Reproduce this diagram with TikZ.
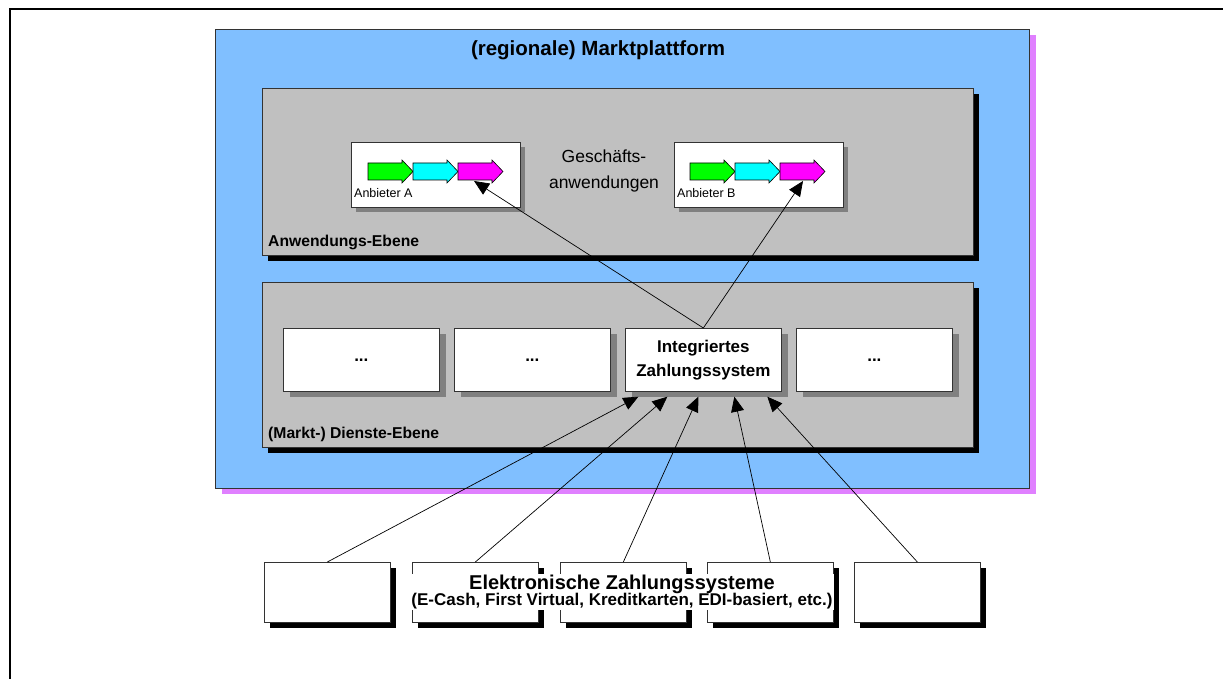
\documentclass[tikz,border=0pt]{standalone}
\usepackage{fontspec}
\setmainfont{Liberation Sans}
\usetikzlibrary{arrows.meta,shadows,calc}

\definecolor{plattformblau}{RGB}{128,191,255}
\definecolor{schattenlila}{RGB}{224,128,255}
\definecolor{ebenengrau}{RGB}{192,192,192}
\definecolor{schattengrau}{RGB}{128,128,128}
\definecolor{pgruen}{RGB}{0,255,0}
\definecolor{pcyan}{RGB}{0,255,255}
\definecolor{pmagenta}{RGB}{255,0,255}

%% kleiner Blockpfeil: x, y (oben links), Farbe
\newcommand{\blockpfeil}[3]{%
	\draw[fill=#3,line width=0.6pt] (#1,#2) -- ++(34,0) -- ++(0,-3) -- ++(11,11.5) -- ++(-11,11.5) -- ++(0,-3) -- ++(-34,0) -- cycle;}
%% enger Zeilenabstand
\newcommand{\engzeilen}{\setlength{\lineskiplimit}{-20pt}}

\begin{document}
\begin{tikzpicture}[x=1pt,y=-1pt,
	box/.style={draw=black!80,line width=0.7pt,anchor=north west,inner sep=0pt},
	plattform/.style={box,fill=plattformblau,drop shadow={shadow xshift=7pt,shadow yshift=-6pt,fill=schattenlila,opacity=1}},
	ebene/.style={box,fill=ebenengrau,minimum width=711pt,drop shadow={shadow xshift=6pt,shadow yshift=-6pt,fill=black,opacity=1}},
	anbieter/.style={box,fill=white,minimum width=169pt,minimum height=65pt,drop shadow={shadow xshift=5pt,shadow yshift=-5pt,fill=schattengrau,opacity=1}},
	dienst/.style={box,fill=white,minimum width=156pt,minimum height=63pt,align=center,font=\bfseries\fontsize{17}{24}\selectfont,drop shadow={shadow xshift=7pt,shadow yshift=-6pt,fill=schattengrau,opacity=1}},
	zahlung/.style={box,fill=white,minimum width=126pt,minimum height=60pt,drop shadow={shadow xshift=6pt,shadow yshift=-6pt,fill=black,opacity=1}},
	ebenentext/.style={anchor=base west,inner sep=0pt,font=\bfseries\fontsize{15.7}{18}\selectfont},
	pfeil/.style={line width=0.7pt,-{Triangle[length=15pt,width=13pt]}}]

	\useasboundingbox (0,0) rectangle (1223,679);

	%%Rahmen
	\draw[line width=2pt] (10,679) -- (10,9) -- (1223,9);

	%%Marktplattform
	\node[plattform,minimum width=814pt,minimum height=459pt] (plattform) at (215,29) {};
	\node[anchor=base,font=\bfseries\fontsize{20.5}{24}\selectfont] (titel) at (598,56) {(regionale) Marktplattform};

	%%Ebenen
	\node[ebene,minimum height=167pt] (anwendung) at (262,88) {};
	\node[ebene,minimum height=165pt] (dienste) at (262,282) {};
	\node[ebenentext] (anwendungtext) at (268,247) {Anwendungs-Ebene};
	\node[ebenentext] (dienstetext) at (268,438) {(Markt-) Dienste-Ebene};

	%%Anwendungen
	\node[anbieter] (anbA) at (351,142) {};
	\node[anbieter] (anbB) at (674,142) {};
	\node[anchor=base west,inner sep=0pt,font=\fontsize{12.5}{14}\selectfont] (textA) at (354,197) {Anbieter A};
	\node[anchor=base west,inner sep=0pt,font=\fontsize{12.5}{14}\selectfont] (textB) at (677,197) {Anbieter B};
	\node[align=center,font=\fontsize{17.5}{26}\selectfont] (geschaeft) at (604,171) {Geschäfts-\\anwendungen};

	%%Dienste
	\node[dienst] (d1) at (283,328) {...};
	\node[dienst] (d2) at (454,328) {...};
	\node[dienst] (izs) at (625,328) {Integriertes\\Zahlungssystem};
	\node[dienst] (d4) at (796,328) {...};

	%%Zahlungssysteme
	\node[zahlung] (z1) at (264,562) {};
	\node[zahlung] (z2) at (412,562) {};
	\node[zahlung] (z3) at (560,562) {};
	\node[zahlung] (z4) at (707,562) {};
	\node[zahlung] (z5) at (854,562) {};
	\node[anchor=north,fill=white,inner sep=1pt,align=center,
		font=\bfseries\fontsize{20}{15.5}\selectfont\engzeilen] (ezs) at (622,574)
		{Elektronische Zahlungssysteme\\{\fontsize{17}{15.5}\selectfont(E-Cash, First Virtual, Kreditkarten, EDI-basiert, etc.)}};

	%%Verbindungen
	\coordinate (zielA) at (474,181);
	\coordinate (zielB) at (803,181);
	\draw[pfeil] (izs.north) -- (zielA);
	\draw[pfeil] (izs.north) -- (zielB);

	\draw[pfeil] (z1.north) -- ($(izs.south)+(-65,5)$);
	\draw[pfeil] (z2.north) -- ($(izs.south)+(-36,5)$);
	\draw[pfeil] (z3.north) -- ($(izs.south)+(-5,5)$);
	\draw[pfeil] (z4.north) -- ($(izs.south)+(31,5)$);
	\draw[pfeil] (z5.north) -- ($(izs.south)+(64,5)$);

	%%Prozesse
	\blockpfeil{368}{163}{pgruen}
	\blockpfeil{413}{163}{pcyan}
	\blockpfeil{458}{163}{pmagenta}
	\blockpfeil{690}{163}{pgruen}
	\blockpfeil{735}{163}{pcyan}
	\blockpfeil{780}{163}{pmagenta}

\end{tikzpicture}
\end{document}
